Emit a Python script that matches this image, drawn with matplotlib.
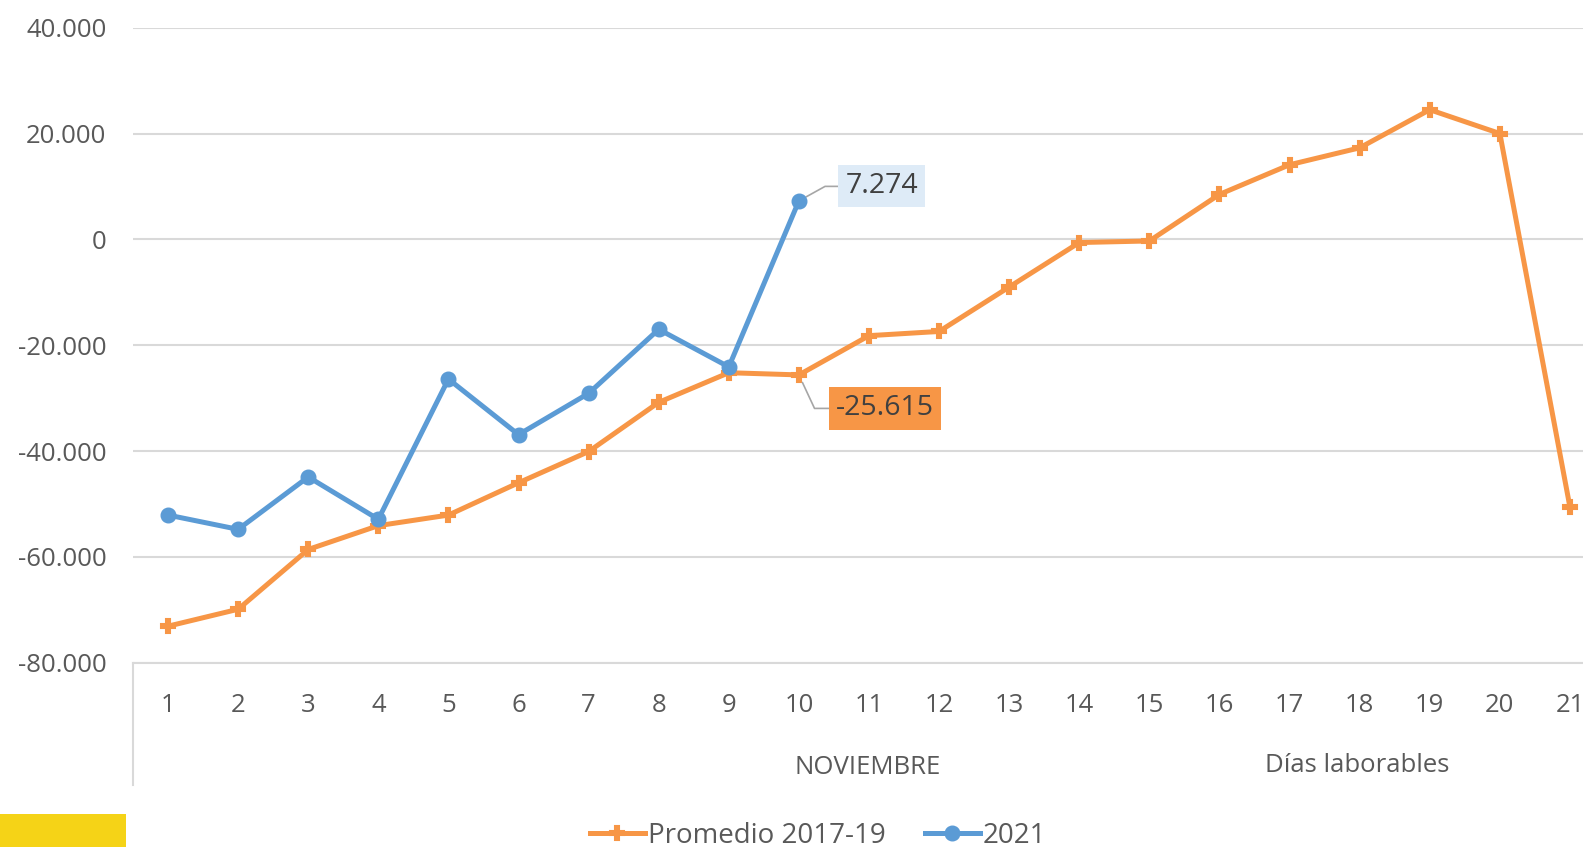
import matplotlib
matplotlib.use("Agg")
import matplotlib.pyplot as plt
from matplotlib.lines import Line2D
from matplotlib.patches import Rectangle
from matplotlib.ticker import FuncFormatter

plt.rcParams['font.family'] = ['Open Sans', 'DejaVu Sans']

dias = list(range(1, 22))
promedio = [-73100, -69900, -58600, -54100, -52100, -46000, -40100, -30800, -25200, -25615,
            -18200, -17400, -9000, -600, -300, 8500, 14100, 17300, 24500, 20000, -50600]
dias_2021 = list(range(1, 11))
serie_2021 = [-52100, -54800, -44900, -52900, -26400, -36900, -29100, -17000, -24100, 7274]
yticks = [-80000, -60000, -40000, -20000, 0, 20000, 40000]

orange = '#F79646'
blue = '#5B9BD5'
gray_txt = '#595959'
grid_c = '#D9D9D9'
fs = 18.5

fig = plt.figure(figsize=(15.83, 8.47), dpi=100)
# the plot area runs past the right edge of the picture, like the source
ax = fig.add_axes([133/1583, 1-662.7/847, 1472/1583, 635/847])

ax.plot(dias, promedio, color=orange, lw=3.6, marker='P', ms=9.5, mew=1.5, mec=orange,
        zorder=3, label='Promedio 2017-19')
ax.plot(dias_2021, serie_2021, color=blue, lw=3.6, marker='o', ms=10.5, zorder=4,
        label='2021')

ax.set_xlim(0.5, 21.5)
ax.set_ylim(-80000, 40000)
ax.set_yticks(yticks)
ax.set_xticks(dias)
ax.yaxis.set_major_formatter(FuncFormatter(lambda v, p: f"{int(v):,}".replace(',', '.')))
ax.grid(axis='y', color=grid_c, lw=1.5)
ax.set_axisbelow(True)
for s in ['top', 'right', 'left']:
    ax.spines[s].set_visible(False)
ax.spines['bottom'].set_color(grid_c)
ax.spines['bottom'].set_linewidth(1.5)
ax.tick_params(axis='both', length=0, labelsize=fs, labelcolor=gray_txt)
ax.tick_params(axis='y', pad=19)
ax.tick_params(axis='x', pad=22)

# data labels
ax.annotate(f"{serie_2021[-1]:,}".replace(',', '.'), xy=(dias_2021[-1], serie_2021[-1]),
            xytext=(83, 14.5), textcoords='offset pixels', ha='center', va='center',
            fontsize=20.5, color='#404040',
            bbox=dict(boxstyle='square,pad=0.25', fc='#DEEBF7', ec='none'),
            arrowprops=dict(arrowstyle='-', color='#A6A6A6', lw=1.2,
                            connectionstyle='angle,angleA=0,angleB=29,rad=0',
                            shrinkA=0, shrinkB=6))
ax.annotate(f"{promedio[9]:,}".replace(',', '.'), xy=(dias[9], promedio[9]),
            xytext=(86, -33.5), textcoords='offset pixels', ha='center', va='center',
            fontsize=20.5, color='#404040',
            bbox=dict(boxstyle='square,pad=0.25', fc=orange, ec='none'),
            arrowprops=dict(arrowstyle='-', color='#A6A6A6', lw=1.2,
                            connectionstyle='angle,angleA=0,angleB=-65,rad=0',
                            shrinkA=0, shrinkB=6))

# second-level category labels
fig.text(868/1583, 1-767/847, 'NOVIEMBRE', ha='center', va='center', fontsize=fs, color=gray_txt)
fig.text(1357/1583, 1-765/847, 'Días laborables', ha='center', va='center', fontsize=fs, color=gray_txt)

# divider line under the category axis
fig.add_artist(Line2D([133/1583, 133/1583], [1-662.7/847, 1-785/847],
                      transform=fig.transFigure, color=grid_c, lw=1.5))

# yellow block bottom-left
fig.add_artist(Rectangle((0, 0), 126/1583, 1-814/847, transform=fig.transFigure,
                         fc='#F5D317', ec='none'))

fig.legend(loc='center', bbox_to_anchor=(818/1583, 1-836/847), ncol=2, frameon=False,
           fontsize=20, labelcolor=gray_txt, handlelength=2.0, handletextpad=0.1,
           columnspacing=1.4, borderaxespad=0)

fig.savefig('out.png', dpi=100)
